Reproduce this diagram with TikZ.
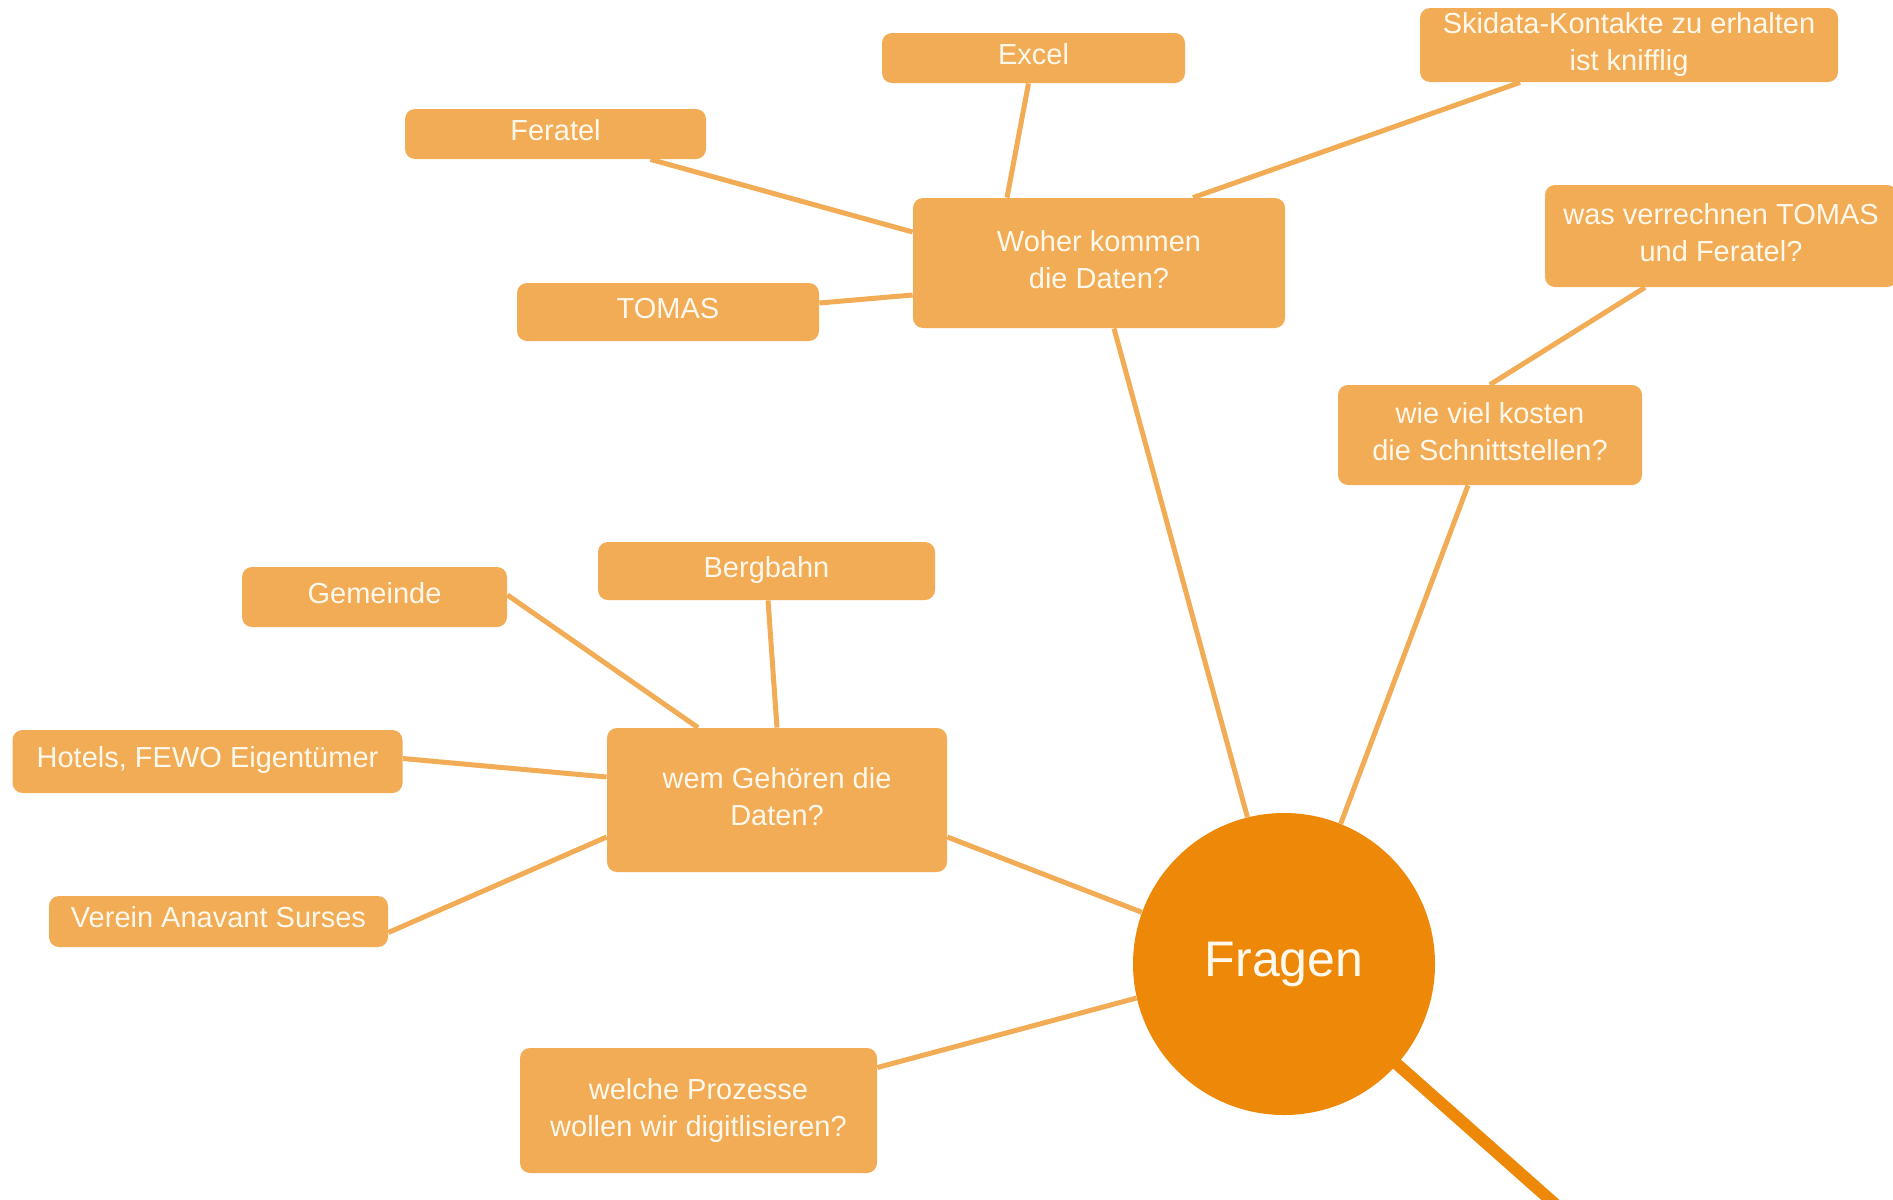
\documentclass[tikz,border=0pt]{standalone}
\usepackage{fontspec}
\setmainfont{Liberation Sans}
\usetikzlibrary{calc,backgrounds}
\definecolor{boxc}{HTML}{F2AC56}
\definecolor{hubc}{HTML}{EE8808}
\definecolor{txtc}{HTML}{FFF8EC}
\newcommand{\liftup}{\rule[-4pt]{0pt}{4pt}}
\tikzset{
  topic/.style={fill=boxc, rounded corners=5pt, text=txtc, align=center, inner sep=0pt,
    font=\fontsize{14.5}{18.5}\selectfont},
  oneline/.style={text height=10pt, text depth=3.6pt},
  hub/.style={circle, fill=hubc, text=txtc, inner sep=0pt, minimum size=151pt,
    font=\fontsize{25}{30}\selectfont},
  link/.style={draw=boxc, line width=2.5pt},
  trunk/.style={draw=hubc, line width=6pt}
}
\begin{document}
\begin{tikzpicture}[x=0.5pt,y=-0.5pt]
\useasboundingbox (0,0) rectangle (1893,1199);
% nodes
\node[topic, oneline, minimum width=151.5pt, minimum height=25pt] (excel) at (1033.5,58) {Excel};
\node[topic, minimum width=209pt, minimum height=37pt] (skidata) at (1629,45) {Skidata-Kontakte zu erhalten\\ist knifflig};
\node[topic, oneline, minimum width=150.5pt, minimum height=25pt] (feratel) at (555.5,134) {Feratel};
\node[topic, minimum width=186pt, minimum height=65pt] (woher) at (1099,263) {Woher kommen\\die Daten?\liftup};
\node[topic, oneline, minimum width=151pt, minimum height=29pt] (tomas) at (668,312) {TOMAS};
\node[topic, minimum width=176pt, minimum height=51pt] (verrechnen) at (1721,236) {was verrechnen TOMAS\\und Feratel?\liftup};
\node[topic, minimum width=152pt, minimum height=50pt] (wieviel) at (1490,435) {wie viel kosten\\die Schnittstellen?\liftup};
\node[topic, oneline, minimum width=132.5pt, minimum height=30pt] (gemeinde) at (374.5,597) {Gemeinde};
\node[topic, oneline, minimum width=168.5pt, minimum height=29pt] (bergbahn) at (766.5,571) {Bergbahn};
\node[topic, oneline, minimum width=195pt, minimum height=31.5pt] (hotels) at (207.5,761.5) {Hotels, FEWO Eigentümer};
\node[topic, minimum width=170pt, minimum height=72pt] (wem) at (777,800) {wem Gehören die\\Daten?\liftup};
\node[topic, oneline, minimum width=169.5pt, minimum height=25.5pt] (verein) at (218.5,921.5) {Verein Anavant Surses};
\node[topic, minimum width=178.5pt, minimum height=62.5pt] (welche) at (698.5,1110.5) {welche Prozesse\\wollen wir digitlisieren?};
\node[hub] (fragen) at (1284,964) {Fragen};
\coordinate (offpage) at (1652,1290);
% connectors
\begin{pgfonlayer}{background}
\draw[link] ($(excel.south)+(-5,0)$) -- ($(woher.north)+(-92,0)$);
\draw[link] ($(skidata.south)+(-109,0)$) -- ($(woher.north)+(94,0)$);
\draw[link] ($(feratel.south)+(95,0)$) -- ($(woher.west)+(0,-31)$);
\draw[link] ($(tomas.east)+(0,-9)$) -- ($(woher.west)+(0,32)$);
\draw[link] ($(woher.south)+(15,0)$) -- (fragen.104);
\draw[link] ($(verrechnen.south)+(-76,0)$) -- (wieviel.north);
\draw[link] ($(wieviel.south)+(-22,0)$) -- (fragen.68);
\draw[link] ($(gemeinde.east)+(0,-2)$) -- ($(wem.north)+(-79,0)$);
\draw[link] ($(bergbahn.south)+(1.5,0)$) -- (wem.north);
\draw[link] ($(hotels.east)+(0,-3)$) -- ($(wem.west)+(0,-23)$);
\draw[link] ($(verein.east)+(0,11)$) -- ($(wem.west)+(0,37)$);
\draw[link] ($(wem.east)+(0,37)$) -- (fragen.160);
\draw[link] ($(welche.east)+(0,-43)$) -- (fragen.193);
\draw[trunk] (fragen.center) -- (offpage);
\end{pgfonlayer}
\end{tikzpicture}
\end{document}
